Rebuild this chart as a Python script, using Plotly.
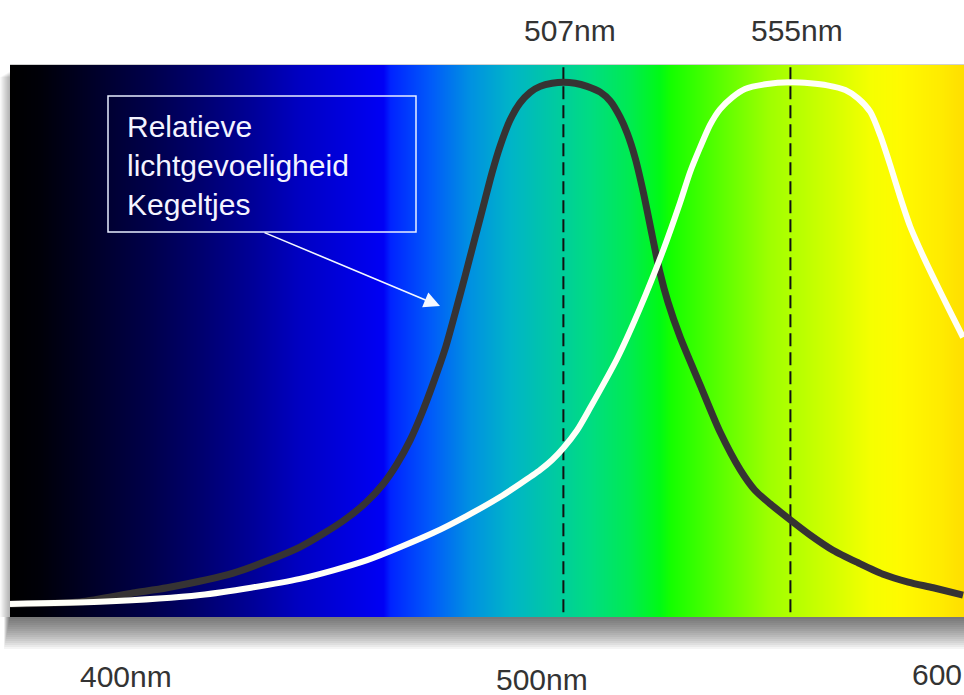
import numpy as np
import plotly.graph_objects as go

# ---------------- data ----------------
# Relative sensitivity of the two curves (wavelength in nm, relative value 0..1)
dark_nm = [390.0, 404.8, 416.0, 423.2, 437.2, 451.3, 460.4, 465.1, 468.9, 471.8,
           474.6, 477.1, 479.4, 482.0, 484.1, 486.2, 488.3, 490.4, 491.9, 493.6,
           495.7, 497.8, 500.0, 502.1, 504.6, 507.0, 509.5, 512.0, 514.8, 516.9,
           519.0, 520.5, 522.2, 523.9, 525.8, 527.4, 529.1, 531.7, 535.9, 540.1,
           544.4, 547.5, 550.7, 555.0, 559.2, 564.0, 569.3, 574.6, 579.9, 585.2,
           591.5]
dark_rel = [0.000, 0.004, 0.021, 0.031, 0.059, 0.109, 0.159, 0.193, 0.230, 0.268,
            0.314, 0.366, 0.421, 0.489, 0.557, 0.628, 0.701, 0.774, 0.826, 0.877,
            0.927, 0.960, 0.981, 0.992, 0.998, 1.000, 0.998, 0.992, 0.981, 0.964,
            0.933, 0.902, 0.854, 0.789, 0.705, 0.636, 0.579, 0.511, 0.420, 0.330,
            0.257, 0.218, 0.192, 0.161, 0.132, 0.103, 0.079, 0.057, 0.042, 0.031,
            0.017]

white_nm = [390.0, 409.0, 430.2, 451.3, 465.5, 479.4, 486.6, 493.6, 497.8, 502.1,
            504.6, 507.0, 509.9, 512.6, 518.4, 523.2, 528.1, 531.7, 533.8, 535.9,
            538.0, 540.1, 542.7, 545.4, 549.7, 555.0, 559.2, 562.8, 566.6, 569.3,
            571.9, 574.0, 576.1, 578.2, 580.3, 582.9, 585.2, 588.4, 591.5]
white_rel = [0.000, 0.004, 0.017, 0.048, 0.084, 0.136, 0.169, 0.205, 0.230, 0.257,
             0.276, 0.299, 0.333, 0.375, 0.471, 0.567, 0.678, 0.770, 0.828, 0.875,
             0.918, 0.948, 0.971, 0.987, 0.996, 1.000, 0.998, 0.994, 0.985, 0.969,
             0.943, 0.898, 0.841, 0.780, 0.724, 0.670, 0.626, 0.567, 0.511]

peaks_nm = [507, 555]
peak_labels = ["507nm", "555nm"]
axis_labels = ["400nm", "500nm", "600"]
box_lines = ["Relatieve", "lichtgevoeligheid", "Kegeltjes"]

# background spectrum colour stops (wavelength in nm -> colour)
spec_nm = [390.0, 396.3, 409.0, 419.6, 430.2, 440.8, 451.3, 461.9, 468.9, 470.4,
           478.8, 487.3, 495.7, 504.2, 512.6, 521.1, 527.4, 529.6, 540.1, 550.7,
           563.4, 571.9, 578.2, 586.7, 591.7]
spec_rgb = [(0, 0, 0), (0, 0, 8), (0, 0, 45), (0, 0, 75), (0, 0, 110), (0, 0, 150),
            (0, 0, 195), (0, 0, 225), (0, 0, 245), (0, 35, 255), (0, 90, 250),
            (0, 145, 225), (0, 180, 200), (0, 200, 165), (0, 220, 130), (0, 235, 80),
            (0, 250, 20), (20, 255, 0), (90, 255, 0), (160, 255, 0), (210, 255, 0),
            (245, 255, 0), (255, 250, 0), (255, 235, 0), (255, 222, 0)]

# ---------------- layout constants ----------------
W, H = 964, 695
ML, MR, MT, MB = 10, 0, 65, 78
x_range = [390.0, 591.7]
y_range = [-0.025, 1.033]


def pxx(x):
    return (x - ML) / (W - ML - MR)


def pxy(y):
    return (H - MB - y) / (H - MT - MB)


fig = go.Figure()

# spectrum background
xs = np.linspace(x_range[0], x_range[1], 955)
span = x_range[1] - x_range[0]
colorscale = [[(n - x_range[0]) / span, "rgb(%d,%d,%d)" % c] for n, c in zip(spec_nm, spec_rgb)]
colorscale[0][0] = 0.0
colorscale[-1][0] = 1.0
fig.add_trace(go.Heatmap(
    x=xs, y=[y_range[0] - 0.1, y_range[1] + 0.1], z=[xs, xs],
    colorscale=colorscale, zmin=x_range[0], zmax=x_range[1],
    showscale=False, hoverinfo="skip", zsmooth="best"))

# dashed peak lines
for p in peaks_nm:
    fig.add_trace(go.Scatter(
        x=[p, p], y=[y_range[0] - 0.1, y_range[1] + 0.1], mode="lines",
        line=dict(color="#111111", width=2, dash="13px,6px"),
        hoverinfo="skip", showlegend=False))

# curves
fig.add_trace(go.Scatter(
    x=dark_nm, y=dark_rel, mode="lines",
    line=dict(color="#363333", width=7, shape="spline", smoothing=0.7),
    showlegend=False))
fig.add_trace(go.Scatter(
    x=white_nm, y=white_rel, mode="lines",
    line=dict(color="#fffff8", width=6, shape="spline", smoothing=0.7),
    showlegend=False))

shapes = []
# drop shadow (bottom)
n = 16
for i in range(n):
    f = 1 - i / n
    shapes.append(dict(type="rect", xref="paper", yref="paper", layer="below",
                       x0=pxx(ML - 6 * f), x1=pxx(W + 5), y0=pxy(H - MB + 32 * f), y1=pxy(H - MB),
                       fillcolor="rgba(0,0,0,0.045)", line=dict(width=0)))
# drop shadow (left)
for i in range(n):
    f = 1 - i / n
    shapes.append(dict(type="rect", xref="paper", yref="paper", layer="below",
                       x0=pxx(ML - 10 * f), x1=pxx(ML), y0=pxy(H - MB), y1=pxy(MT + 6 + 6 * f),
                       fillcolor="rgba(0,0,0,0.02)", line=dict(width=0)))
# thin light top edge
shapes.append(dict(type="line", xref="paper", yref="paper",
                   x0=0, x1=1, y0=pxy(MT - 0.5), y1=pxy(MT - 0.5),
                   line=dict(color="#d0d0d0", width=1)))
# annotation box
shapes.append(dict(type="rect", xref="paper", yref="paper",
                   x0=pxx(108), x1=pxx(416), y0=pxy(232), y1=pxy(96),
                   line=dict(color="#e8eeff", width=1.5), fillcolor="rgba(0,0,0,0)"))

font = "Liberation Sans, Arial, sans-serif"
annotations = []
for p, lab in zip(peaks_nm, peak_labels):
    annotations.append(dict(x=p, y=pxy(30), xref="x", yref="paper", xshift=7,
                            text=lab, showarrow=False, xanchor="center", yanchor="middle",
                            font=dict(family=font, size=30, color="#333333")))
for lab, xp, yp, anc in zip(axis_labels, [126, 542, 910], [676, 679, 674], ["center", "center", "left"]):
    annotations.append(dict(x=pxx(xp), y=pxy(yp), xref="paper", yref="paper",
                            text=lab, showarrow=False, xanchor=anc, yanchor="middle",
                            font=dict(family=font, size=30, color="#333333")))
annotations.append(dict(x=pxx(125), y=pxy(165), xref="paper", yref="paper",
                        text="<br>".join(box_lines), showarrow=False, align="left",
                        xanchor="left", yanchor="middle",
                        font=dict(family=font, size=30, color="#f4f4ff")))
# arrow from box to dark curve
annotations.append(dict(x=pxx(440), y=pxy(306), xref="paper", yref="paper",
                        ax=263 - 440, ay=232 - 306, text="", showarrow=True,
                        arrowcolor="#f4f8ff", arrowwidth=1.6, arrowhead=2, arrowsize=2.0))

fig.update_layout(
    width=W, height=H,
    margin=dict(l=ML, r=MR, t=MT, b=MB, pad=0),
    paper_bgcolor="white", plot_bgcolor="white",
    xaxis=dict(range=x_range, visible=False, fixedrange=True),
    yaxis=dict(range=y_range, visible=False, fixedrange=True),
    shapes=shapes, annotations=annotations, showlegend=False,
)

fig.write_html("out.html", config={"displayModeBar": False},
               post_script="document.body.style.margin='0';document.body.style.overflow='hidden';")
